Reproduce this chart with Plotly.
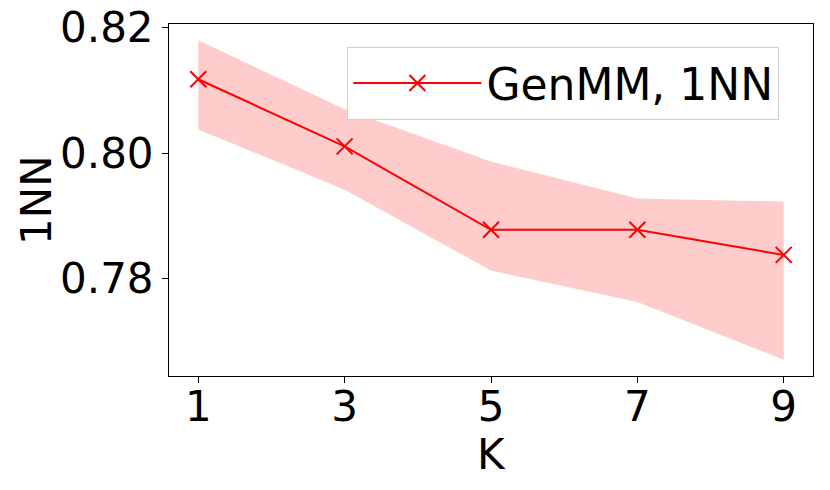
import plotly.graph_objects as go

# values
k_values = [1, 3, 5, 7, 9]
nn1_mean = [0.8118, 0.8011, 0.7878, 0.7878, 0.7838]
nn1_upper = [0.8180, 0.8070, 0.7987, 0.7928, 0.7923]
nn1_lower = [0.8038, 0.7942, 0.7813, 0.7763, 0.7671]
x_ticks = [1, 3, 5, 7, 9]
y_ticks = [0.78, 0.80, 0.82]
y_tick_labels = ['0.78', '0.80', '0.82']

FONT = 'DejaVu Sans'

fig = go.Figure()

# shaded band (lower edge, then upper edge filled down to it)
fig.add_trace(go.Scatter(
    x=k_values, y=nn1_lower, mode='lines',
    line=dict(width=0), showlegend=False, hoverinfo='skip'
))
fig.add_trace(go.Scatter(
    x=k_values, y=nn1_upper, mode='lines',
    line=dict(width=0), fill='tonexty',
    fillcolor='rgba(255,0,0,0.2)', showlegend=False, hoverinfo='skip'
))

fig.add_trace(go.Scatter(
    x=k_values, y=nn1_mean, mode='lines+markers',
    name='GenMM, 1NN',
    line=dict(color='red', width=2),
    marker=dict(symbol='x-thin', size=16, line=dict(color='red', width=2))
))

# axis titles as annotations so they sit where the reference has them
fig.add_annotation(text='K', xref='paper', yref='paper', x=0.5, y=0,
                   yanchor='middle', yshift=-78, showarrow=False,
                   font=dict(size=42))
fig.add_annotation(text='1NN', xref='paper', yref='paper', x=0, y=0.5,
                   xanchor='center', xshift=-133, textangle=-90,
                   showarrow=False, font=dict(size=42))

# page body adds an 8px margin, so the figure is 8px smaller and margins shifted
fig.update_layout(
    width=822, height=482,
    paper_bgcolor='white', plot_bgcolor='white',
    margin=dict(l=161, r=17, t=16, b=114),
    font=dict(family=FONT, size=42, color='black'),
    legend=dict(
        x=0.277, y=0.935, xanchor='left', yanchor='top',
        bgcolor='white', bordercolor='#d0d0d0', borderwidth=1,
        font=dict(family=FONT, size=44),
        itemwidth=128,
    ),
    xaxis=dict(
        range=[0.6, 9.4],
        tickmode='array', tickvals=x_ticks,
        ticks='outside', ticklen=6, tickcolor='black',
        showline=True, linecolor='black', linewidth=1, mirror=True,
        showgrid=False, zeroline=False, automargin=False,
        ticklabelstandoff=-12, ticklabeloverflow='allow',
        tickfont=dict(size=42),
    ),
    yaxis=dict(
        range=[0.7645, 0.8206],
        tickmode='array', tickvals=y_ticks, ticktext=y_tick_labels,
        ticks='outside', ticklen=6, tickcolor='black',
        showline=True, linecolor='black', linewidth=1, mirror=True,
        showgrid=False, zeroline=False, automargin=False,
        ticklabeloverflow='allow',
        tickfont=dict(size=42),
    ),
)

fig.write_html("out.html")
